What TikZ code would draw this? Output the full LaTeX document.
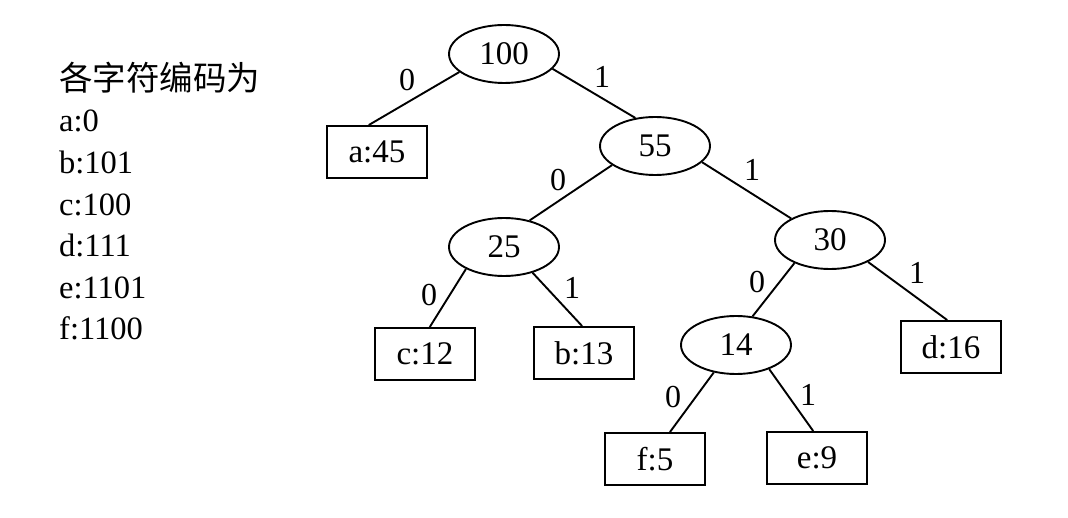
\documentclass[tikz,border=0pt]{standalone}
\usepackage{fontspec}
\setmainfont{Liberation Serif}
\newfontfamily\cjk{Noto Sans CJK SC}
\usetikzlibrary{shapes.geometric}
\tikzset{
  inner/.style={ellipse,draw,line width=1.9pt,minimum width=110pt,minimum height=58pt,inner sep=0pt,font=\fontsize{33}{36}\selectfont},
  leaf/.style={rectangle,draw,line width=1.9pt,minimum width=100pt,minimum height=52pt,inner sep=0pt,font=\fontsize{33}{36}\selectfont},
  edge/.style={line width=1.9pt},
  bit/.style={inner sep=0pt,font=\fontsize{32}{36}\selectfont},
  code/.style={inner sep=0pt,anchor=base west,font=\fontsize{32.5}{36}\selectfont}
}
\begin{document}
\begin{tikzpicture}[x=1pt,y=-1pt]
\useasboundingbox (0,0) rectangle (1068,518);
% legend
\node[code,font=\cjk\fontsize{33.5}{36}\selectfont] (t0) at (59,91) {各字符编码为};
\node[code] (t1) at (59,132) {a:0};
\node[code] (t2) at (59,173.5) {b:101};
\node[code] (t3) at (59,215.5) {c:100};
\node[code] (t4) at (59,257) {d:111};
\node[code] (t5) at (59,298.5) {e:1101};
\node[code] (t6) at (59,339.5) {f:1100};
% tree nodes
\node[inner] (n100) at (504,54) {100};
\node[leaf]  (a45)  at (377,152) {a:45};
\node[inner] (n55)  at (655,146) {55};
\node[inner] (n25)  at (504,247) {25};
\node[inner] (n30)  at (830,240) {30};
\node[leaf]  (c12)  at (425,354) {c:12};
\node[leaf]  (b13)  at (584,353) {b:13};
\node[inner] (n14)  at (736,345) {14};
\node[leaf]  (d16)  at (951,347) {d:16};
\node[leaf]  (f5)   at (655,459) {f:5};
\node[leaf]  (e9)   at (817,458) {e:9};
% edges
\draw[edge] (n100.-158) -- (a45.107);
\draw[edge] (n100.-17) -- (n55.125);
\draw[edge] (n55.-156) -- (n25.46);
\draw[edge] (n55.-19) -- (n30.151);
\draw[edge] (n25.-150) -- (c12.80);
\draw[edge] (n25.-42) -- (b13.94);
\draw[edge] (n30.-147) -- (n14.60);
\draw[edge] (n30.-30) -- (d16.98);
\draw[edge] (n14.-129) -- (f5.61);
\draw[edge] (n14.-36) -- (e9.98);
% bit labels
\node[bit] (l1) at (407,80) {0};
\node[bit] (l2) at (602,77) {1};
\node[bit] (l3) at (558,180) {0};
\node[bit] (l4) at (752,170) {1};
\node[bit] (l5) at (429,295) {0};
\node[bit] (l6) at (572,288) {1};
\node[bit] (l7) at (757,282) {0};
\node[bit] (l8) at (917,273) {1};
\node[bit] (l9) at (673,397) {0};
\node[bit] (l10) at (808,395) {1};
\end{tikzpicture}
\end{document}
